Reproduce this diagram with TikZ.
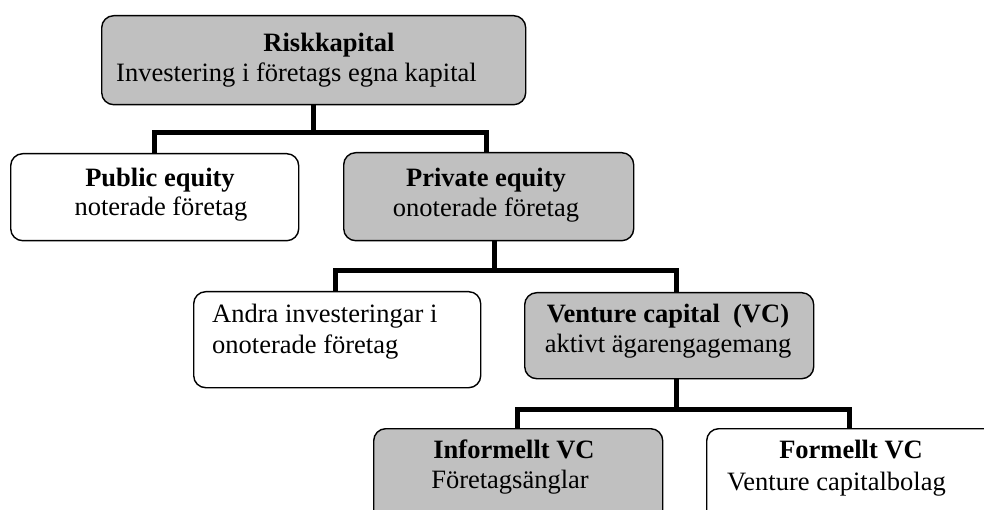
\documentclass[tikz,border=0pt]{standalone}
\usepackage{fontspec}
\setmainfont{Liberation Serif}
\definecolor{boxgray}{RGB}{192,192,192}
\tikzset{
  box/.style={draw=black, line width=1.4pt, rounded corners=12pt, inner sep=0pt,
              anchor=north west},
  gbox/.style={box, fill=boxgray},
  wbox/.style={box, fill=white},
  conn/.style={line width=5pt, line join=miter},
  ttl/.style={font=\bfseries\fontsize{26.5}{30}\selectfont, inner sep=0pt, anchor=base},
  sub/.style={font=\fontsize{26.5}{30}\selectfont, inner sep=0pt, anchor=base},
  subl/.style={sub, anchor=base west},
}
\begin{document}
\begin{tikzpicture}[x=1pt, y=-1pt]
\useasboundingbox (0,0) rectangle (984,510);
\clip (0,0) rectangle (984,510);

% boxes
\node[gbox, minimum width=424pt, minimum height=89pt] (risk)  at (101,15)  {};
\node[wbox, minimum width=288pt, minimum height=87pt] (pub)   at (10,153)  {};
\node[gbox, minimum width=290pt, minimum height=88pt] (priv)  at (343,152) {};
\node[wbox, minimum width=287pt, minimum height=96pt] (andra) at (193,291) {};
\node[gbox, minimum width=289pt, minimum height=86pt] (vc)    at (524,292) {};
\node[gbox, minimum width=289pt, minimum height=110pt] (info) at (373,428) {};
\node[wbox, minimum width=290pt, minimum height=110pt] (form) at (706,428) {};

% texts
\node[ttl]  (riskT) at (329,51.7) {Riskkapital};
\node[subl] (riskS) at (116,81.7) {Investering i företags egna kapital};
\node[ttl]  (pubT)  at (160,186.7) {Public equity};
\node[sub]  (pubS)  at (161,216)   {noterade företag};
\node[ttl]  (privT) at (486,186.7) {Private equity};
\node[sub]  (privS) at (486,216.7) {onoterade företag};
\node[subl] (andraA) at (212,323) {Andra investeringar i};
\node[subl] (andraB) at (212,353) {onoterade företag};
\node[ttl]  (vcT)   at (668,323) {Venture capital\ \ (VC)};
\node[sub]  (vcS)   at (668,352) {aktivt ägarengagemang};
\node[ttl]  (infoT) at (514,458) {Informellt VC};
\node[sub]  (infoS) at (510,488) {Företagsänglar};
\node[ttl]  (formT) at (851,458) {Formellt VC};
\node[subl] (formS) at (727,490) {Venture capitalbolag};

% junction points of the tree
\coordinate (j1) at (313,132.5);
\coordinate (l1) at (154.5,132.5);
\coordinate (r1) at (486,132.5);
\coordinate (j2) at (494.5,270.5);
\coordinate (l2) at (335.5,270.5);
\coordinate (r2) at (676,270.5);
\coordinate (j3) at (676,409);
\coordinate (l3) at (517.5,409);
\coordinate (r3) at (849.5,409);

% connectors
\draw[conn] (j1 |- risk.south) -- (j1);
\draw[conn] (l1 |- pub.north) -- (l1) -- (r1) -- (r1 |- priv.north);
\draw[conn] (j2 |- priv.south) -- (j2);
\draw[conn] (l2 |- andra.north) -- (l2) -- (r2) -- (r2 |- vc.north);
\draw[conn] (j3 |- vc.south) -- (j3);
\draw[conn] (l3 |- info.north) -- (l3) -- (r3) -- (r3 |- form.north);
\end{tikzpicture}
\end{document}
